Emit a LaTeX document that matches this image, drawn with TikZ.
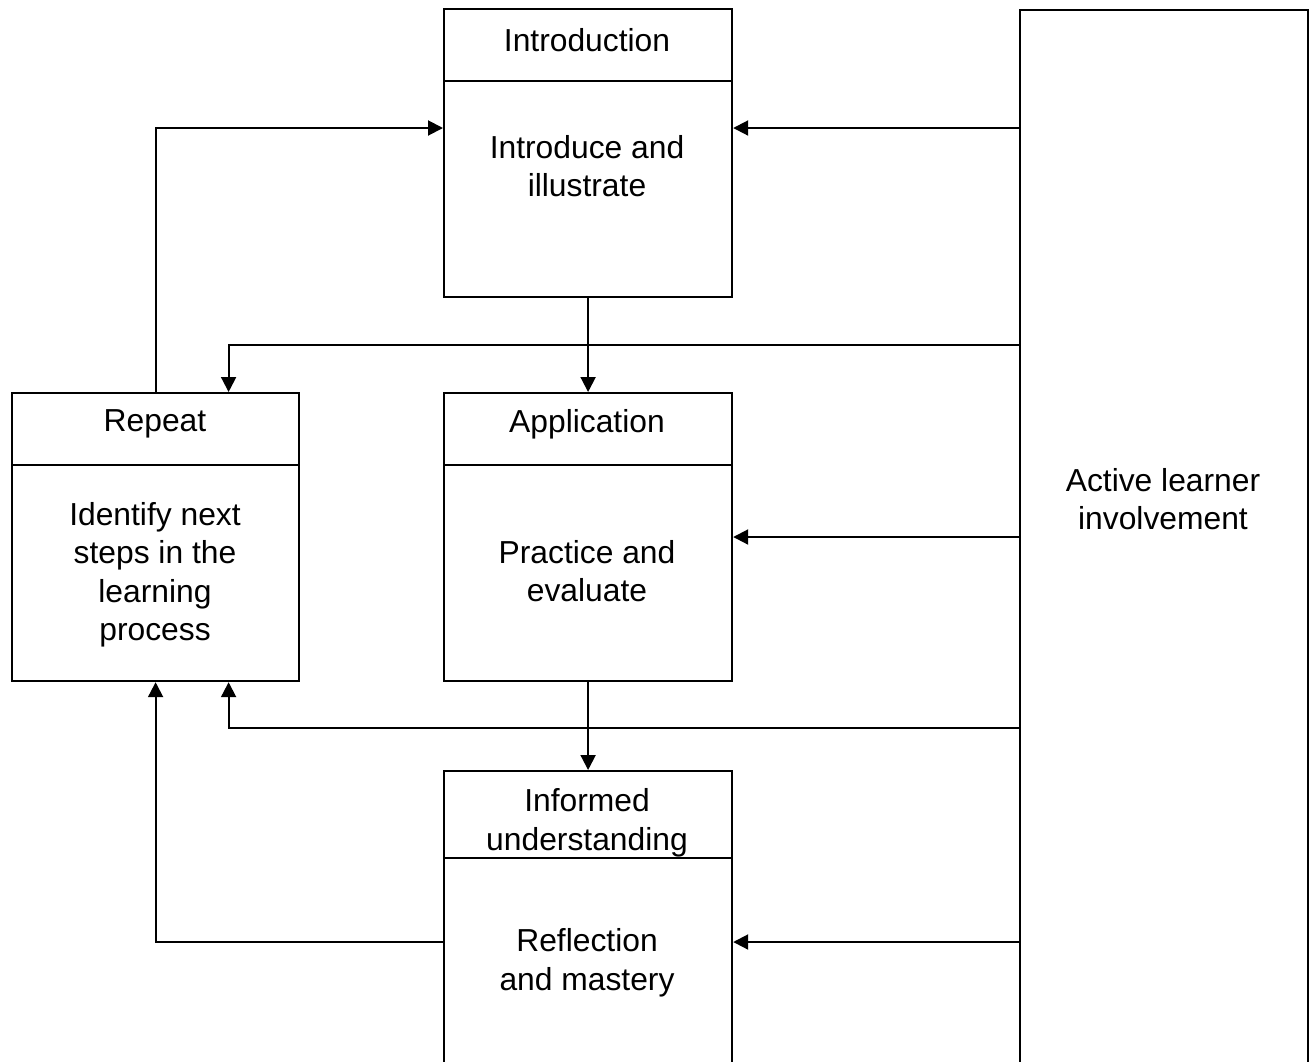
\documentclass[tikz,border=0pt]{standalone}
\usepackage{fontspec}
\setmainfont{Liberation Sans}
\usetikzlibrary{arrows.meta,calc}
\begin{document}
\begin{tikzpicture}[x=1pt,y=-1pt,
  box/.style={draw=black,line width=2.2pt,rectangle,inner sep=0pt,anchor=north west},
  txt/.style={align=center,inner sep=0pt,font=\fontsize{31.8}{38.5}\selectfont},
  arr/.style={line width=2pt,-{Triangle[length=15pt,width=15pt]}}]
\clip (0,0) rectangle (1309,1061);
\fill[white] (0,0) rectangle (1309,1061);
% Introduction
\node[box,minimum width=288pt,minimum height=72pt] (inthead) at (443,8) {};
\node[box,minimum width=288pt,minimum height=216pt] (intbody) at (443,80) {};
% Repeat
\node[box,minimum width=287pt,minimum height=72pt] (rephead) at (11,392) {};
\node[box,minimum width=287pt,minimum height=216pt] (repbody) at (11,464) {};
% Application
\node[box,minimum width=288pt,minimum height=72pt] (apphead) at (443,392) {};
\node[box,minimum width=288pt,minimum height=216pt] (appbody) at (443,464) {};
% Informed understanding
\node[box,minimum width=288pt,minimum height=87pt] (infhead) at (443,770) {};
\node[box,minimum width=288pt,minimum height=220pt] (infbody) at (443,857) {};
% Active learner involvement
\node[box,minimum width=288pt,minimum height=1070pt] (active) at (1019,9) {};
% texts
\node[txt] (t1) at (587,40) {Introduction};
\node[txt] (t2) at (587,166) {Introduce and\\illustrate};
\node[txt] (t3) at (155,424) {Repeat};
\node[txt] (t4) at (155,575) {Identify next\\steps in the\\learning\\process};
\node[txt] (t5) at (587,424) {Application};
\node[txt] (t6) at (587,571) {Practice and\\evaluate};
\node[txt] (t7) at (587,823) {Informed\\understanding};
\node[txt] (t8) at (587,963) {Reflection\\and mastery};
\node[txt] (t9) at (1163,499) {Active learner\\involvement};
% connector anchors on the Active box
\coordinate (a1) at (active.west |- 0,128);
\coordinate (a2) at (active.west |- 0,345);
\coordinate (a3) at (active.west |- 0,537);
\coordinate (a4) at (active.west |- 0,728);
\coordinate (a5) at (active.west |- 0,942);
\coordinate (i5) at (infbody.west |- 0,942);
% connectors
\draw[arr] (a1) -- (a1 -| intbody.east);
\draw[arr] (a2) -| ($(rephead.north)+(73,0)$);
\draw[arr] (intbody.south) -- (apphead.north);
\draw[arr] (a3) -- (a3 -| appbody.east);
\draw[arr] (a4) -| ($(repbody.south)+(73,0)$);
\draw[arr] (appbody.south) -- (infhead.north);
\draw[arr] (a5) -- (a5 -| infbody.east);
\draw[arr] (i5) -| (repbody.south);
\draw[arr] (rephead.north) |- (a1 -| intbody.west);
\end{tikzpicture}
\end{document}
